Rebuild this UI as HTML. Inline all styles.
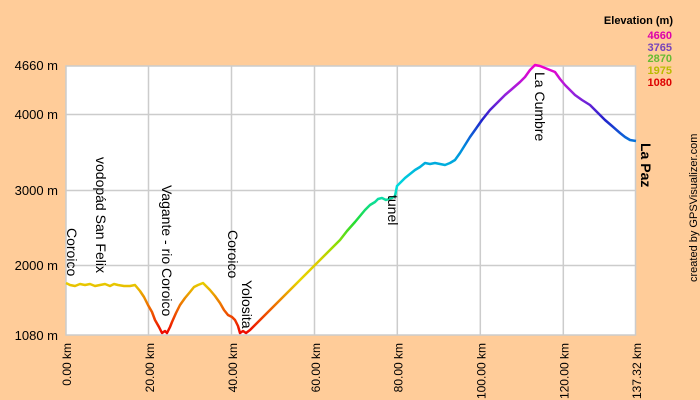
<!DOCTYPE html>
<html><head><meta charset="utf-8"><style>
html,body{margin:0;padding:0;background:#FFCC99;}
svg{display:block;font-family:"Liberation Sans",sans-serif;}
</style></head><body>
<svg width="700" height="400" viewBox="0 0 700 400" xmlns="http://www.w3.org/2000/svg">
<defs>
<linearGradient id="g" gradientUnits="userSpaceOnUse" x1="0" y1="335" x2="0" y2="66">
<stop offset="0" stop-color="#ee0000"/>
<stop offset="0.1" stop-color="#ee6600"/>
<stop offset="0.2" stop-color="#e6d400"/>
<stop offset="0.27" stop-color="#ddcc00"/>
<stop offset="0.33" stop-color="#99dd00"/>
<stop offset="0.42" stop-color="#22dd33"/>
<stop offset="0.55" stop-color="#00dddd"/>
<stop offset="0.7" stop-color="#0088dd"/>
<stop offset="0.8" stop-color="#2222cc"/>
<stop offset="0.9" stop-color="#9922dd"/>
<stop offset="1" stop-color="#ee00cc"/>
</linearGradient>
</defs>
<rect x="0" y="0" width="700" height="400" fill="#FFCC99"/>
<rect x="66" y="66" width="569.5" height="269" fill="#ffffff" stroke="#cccccc" stroke-width="1.5"/>
<g stroke="#cccccc" stroke-width="1.5">
<line x1="148.5" y1="66" x2="148.5" y2="335"/>
<line x1="231.5" y1="66" x2="231.5" y2="335"/>
<line x1="314.5" y1="66" x2="314.5" y2="335"/>
<line x1="397.3" y1="66" x2="397.3" y2="335"/>
<line x1="480.3" y1="66" x2="480.3" y2="335"/>
<line x1="563.3" y1="66" x2="563.3" y2="335"/>
<line x1="66" y1="114.5" x2="635.5" y2="114.5"/>
<line x1="66" y1="190.5" x2="635.5" y2="190.5"/>
<line x1="66" y1="265.5" x2="635.5" y2="265.5"/>
</g>
<polyline fill="none" stroke="url(#g)" stroke-width="2.5" stroke-linejoin="round" points="66,283 70,285 75,286 80,284 85,285 90,284 95,286 100,285 105,284 110,286 114,284 118,285 124,286 130,286 135,285 140,291 144,297 148,305 152,312 155,320 159,327 162,333 165,331 167,333 170,327 172,322 176,313 180,305 185,298 190,292 194,287 198,285 203,283 206,286 210,290 215,296 220,303 224,310 228,315 232,317 235,320 238,326 240,333 243,331 246,333 250,330 255,325 260,320 265,315 272,308 280,300 288,292 295,285 300,280 305,275 310,270 315,265 320,260 325,255 332,248 340,240 347,231 355,222 360,216 365,210 370,205 375,202 378,199 382,198 386,200 392,198 395,196 397,186 401,182 405,178 410,174 415,170 420,167 425,163 430,164 435,163 440,164 445,165 450,163 455,160 460,153 465,145 470,137 475,130 482,120 490,110 497,103 505,95 512,89 520,82 525,77 530,70 535,65 540,66 545,68 550,70 555,72 560,79 565,85 570,90 575,95 582,100 590,105 597,112 605,120 612,126 620,133 625,137 630,140 636,141"/>
<g font-size="13" fill="#000" text-anchor="end">
<text x="58" y="70">4660 m</text>
<text x="58" y="119">4000 m</text>
<text x="58" y="195">3000 m</text>
<text x="58" y="270">2000 m</text>
<text x="58" y="340">1080 m</text>
</g>
<g font-size="12" fill="#000" text-anchor="end">
<text transform="translate(71,343) rotate(-90)">0.00 km</text>
<text transform="translate(154,343) rotate(-90)">20.00 km</text>
<text transform="translate(237,343) rotate(-90)">40.00 km</text>
<text transform="translate(320,343) rotate(-90)">60.00 km</text>
<text transform="translate(402.5,343) rotate(-90)">80.00 km</text>
<text transform="translate(485.5,343) rotate(-90)">100.00 km</text>
<text transform="translate(568.5,343) rotate(-90)">120.00 km</text>
<text transform="translate(641,343) rotate(-90)">137.32 km</text>
</g>
<g font-size="14" fill="#000">
<text transform="translate(67,228) rotate(90)">Coroico</text>
<text transform="translate(96,157) rotate(90)">vodopád San Felix</text>
<text transform="translate(162,185) rotate(90)">Vagante - rio Coroico</text>
<text transform="translate(228,230) rotate(90)">Coroico</text>
<text transform="translate(242,280) rotate(90)">Yolosita</text>
<text transform="translate(388,195) rotate(90)">tunel</text>
<text transform="translate(535,72) rotate(90)">La Cumbre</text>
<text transform="translate(641,143) rotate(90)" font-weight="bold">La Paz</text>
</g>
<g text-anchor="end" font-weight="bold" font-size="11">
<text x="673" y="24" fill="#000">Elevation (m)</text>
<text x="672" y="39" fill="#dd00aa">4660</text>
<text x="672" y="51" fill="#7744bb">3765</text>
<text x="672" y="62" fill="#66bb33">2870</text>
<text x="672" y="74" fill="#bbbb00">1975</text>
<text x="672" y="86" fill="#dd0000">1080</text>
</g>
<text transform="translate(697,282) rotate(-90)" font-size="11" fill="#000">created by GPSVisualizer.com</text>
</svg>
</body></html>
